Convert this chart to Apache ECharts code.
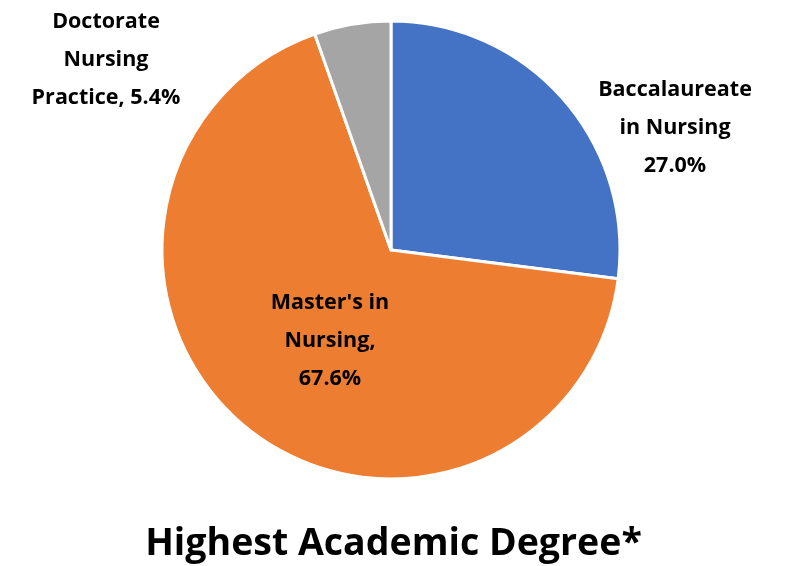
<!DOCTYPE html>
<html>
<head>
<meta charset="utf-8">
<script src="https://cdn.jsdelivr.net/npm/echarts@6/dist/echarts.min.js"></script>
<style>
  html, body { margin: 0; padding: 0; background: #fff; }
  #chart { width: 787px; height: 566px; }
</style>
</head>
<body>
<div id="chart"></div>
<script>
// data
var categories = ['Baccalaureate\nin Nursing', "Master's in\nNursing,", 'Doctorate\nNursing\nPractice,'];
var percents = [27.0, 67.6, 5.4];
var colors = ['#4472C4', '#ED7D31', '#A5A5A5'];

var chart = echarts.init(document.getElementById('chart'));

// label spots (x, y) for each slice
var labelSpots = [[675, 128], [330, 341], [106, 60]];

var option = {
  title: {
    text: 'Highest Academic Degree*',
    left: 'center',
    top: 520,
    textStyle: {
      fontFamily: 'Open Sans',
      fontWeight: 'bold',
      fontSize: 37.5,
      color: '#000'
    }
  },
  series: [{
    type: 'pie',
    center: [391, 250],
    radius: 229,
    startAngle: 90,
    clockwise: true,
    animation: false,
    itemStyle: {
      borderColor: '#fff',
      borderWidth: 3
    },
    label: {
      show: true,
      position: 'outside',
      fontFamily: 'Open Sans',
      fontWeight: 'bold',
      fontSize: 21.5,
      lineHeight: 38,
      color: '#000',
      align: 'center',
      formatter: function (p) {
        var sep = p.dataIndex === 2 ? ' ' : '\n';
        return p.name + sep + p.value.toFixed(1) + '%';
      }
    },
    labelLine: { show: false },
    labelLayout: function (p) {
      var s = labelSpots[p.dataIndex];
      return { x: s[0], y: s[1], align: 'center', verticalAlign: 'middle' };
    },
    data: categories.map(function (c, i) {
      return { name: c, value: percents[i], itemStyle: { color: colors[i] } };
    })
  }]
};

chart.setOption(option);
</script>
</body>
</html>
